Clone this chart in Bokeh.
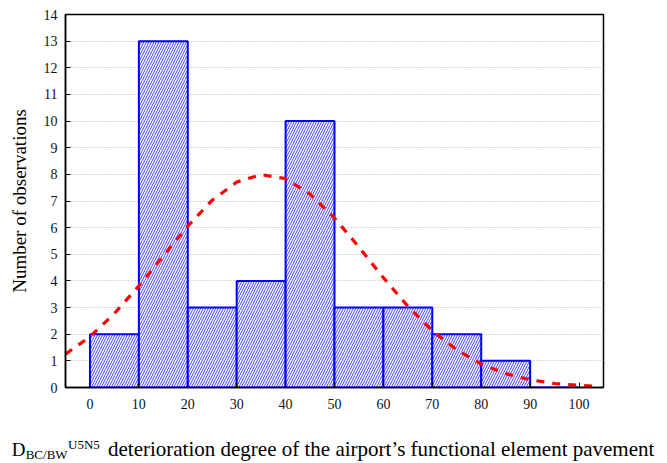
from bokeh.plotting import figure
from bokeh.models import FixedTicker, Range1d, Div
from bokeh.layouts import column
from bokeh.embed import file_html
from bokeh.resources import INLINE

# ---- data ----
bin_left = [0, 10, 20, 30, 40, 50, 60, 70, 80, 90]
bin_right = [10, 20, 30, 40, 50, 60, 70, 80, 90, 100]
counts = [2, 13, 3, 4, 10, 3, 3, 2, 1, 0]

# fitted normal curve
curve_x = [-5, 0, 5, 10, 15, 20, 25, 30, 35, 40, 45, 50, 55, 60, 65, 70, 75, 80, 85, 90, 95, 100, 103]
curve_y = [1.25, 1.91, 2.78, 3.81, 4.94, 6.06, 7.03, 7.71, 7.99, 7.84, 7.26, 6.36, 5.27, 4.12,
           3.05, 2.13, 1.41, 0.88, 0.52, 0.29, 0.15, 0.08, 0.05]

x_ticks = [0, 10, 20, 30, 40, 50, 60, 70, 80, 90, 100]
y_ticks = list(range(0, 15))

y_title = "Number of observations"
x_title_main = "D"
x_title_sub = "BC/BW"
x_title_sup = "U5N5"
x_title_rest = "deterioration degree of the airport\u2019s functional element pavement"

SERIF = "Liberation Serif"
W = 667

p = figure(width=W, height=425, output_backend="svg", toolbar_location=None,
           x_range=Range1d(-5, 105), y_range=Range1d(0, 14),
           min_border_left=65, min_border_right=64, min_border_top=14, min_border_bottom=38)

p.background_fill_color = "white"
p.border_fill_color = "white"
p.outline_line_color = "black"
p.outline_line_width = 1.5

p.xgrid.visible = False
p.ygrid.grid_line_color = "#b0b0b0"
p.ygrid.grid_line_dash = "1 2"
p.ygrid.grid_line_width = 1

p.quad(left=bin_left, right=bin_right, bottom=0, top=counts,
       fill_color="white", line_color="#0000ff", line_width=2,
       hatch_pattern="right_diagonal_line", hatch_color="#2a2aff",
       hatch_scale=5, hatch_weight=1, hatch_alpha=0.9)

p.line(curve_x, curve_y, line_color="#ff0000", line_width=3.2, line_dash="8 8")

for ax in (p.xaxis[0], p.yaxis[0]):
    ax.major_tick_in = 5
    ax.major_tick_out = 0
    ax.minor_tick_in = 0
    ax.minor_tick_out = 0
    ax.axis_line_color = "black"
    ax.axis_line_width = 1.5
    ax.major_tick_line_color = "black"
    ax.major_label_text_font = SERIF
    ax.major_label_text_font_size = "14px"
    ax.major_label_text_color = "#111111"

p.xaxis.ticker = FixedTicker(ticks=x_ticks)
p.yaxis.ticker = FixedTicker(ticks=y_ticks)
p.xaxis.major_label_standoff = 11
p.yaxis.major_label_standoff = 8

p.yaxis.axis_label = y_title
p.yaxis.axis_label_text_font = SERIF
p.yaxis.axis_label_text_font_size = "19px"
p.yaxis.axis_label_text_font_style = "normal"
p.yaxis.axis_label_text_color = "black"
p.yaxis.axis_label_standoff = 11

# x title as an HTML strip below the plot (subscript / superscript pieces)
def piece(txt, left, top, size):
    return (f'<span style="position:absolute; left:{left}px; top:{top}px; '
            f'font-size:{size}px; line-height:{size}px;">{txt}</span>')

html = ('<div style="position:relative; width:667px; height:38px; '
        f"font-family:'{SERIF}'; color:black; white-space:nowrap;\">"
        + piece(x_title_main, 11.7, 15.1, 19)
        + piece(x_title_sub, 25.7, 22.6, 13)
        + piece(x_title_sup, 68, 13.1, 13)
        + piece(x_title_rest, 108, 14.4, 21)
        + '</div>')

t = Div(text=html, width=W, height=38, margin=(0, 0, 0, 0))

open("out.html", "w").write(file_html(column(p, t, spacing=0), INLINE))
